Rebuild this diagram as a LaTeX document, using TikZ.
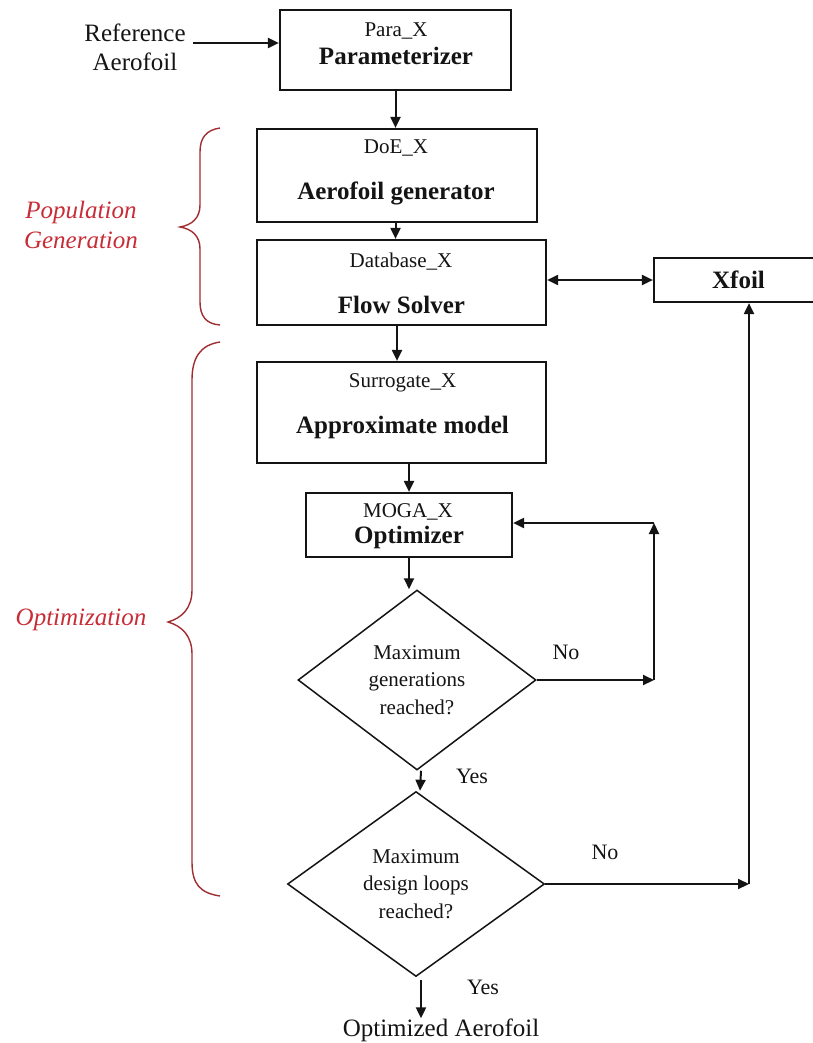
\documentclass[tikz,border=0pt]{standalone}
\usepackage{fontspec}
\setmainfont{Liberation Serif}
\usetikzlibrary{shapes.geometric,arrows.meta}
\definecolor{ink}{RGB}{20,20,20}
\definecolor{lblred}{RGB}{200,45,55}
\definecolor{brred}{RGB}{160,45,50}
\tikzset{
  boxnode/.style={draw=ink, line width=2.2pt, inner sep=0pt},
  smalltxt/.style={font=\fontsize{21}{25}\selectfont, text=ink, inner sep=0pt},
  boldtxt/.style={font=\fontsize{25}{29}\selectfont\bfseries, text=ink, inner sep=0pt},
  decision/.style={diamond, draw=ink, line width=1.5pt, inner sep=0pt, align=center,
    text=ink, font=\fontsize{21}{27.5}\selectfont},
  tip/.tip={Triangle[length=11pt,width=10pt]},
  flow/.style={draw=ink, line width=2pt, -tip},
  flowboth/.style={draw=ink, line width=2pt, tip-tip},
  plaintxt/.style={font=\fontsize{25}{29}\selectfont, text=ink, inner sep=0pt, align=center},
  answer/.style={font=\fontsize{22}{26}\selectfont, text=ink, inner sep=0pt},
  grouplbl/.style={font=\fontsize{25}{30}\selectfont\itshape, text=lblred, align=center, inner sep=0pt},
  bracepath/.style={draw=brred, line width=1.4pt}
}
\begin{document}
\begin{tikzpicture}[x=1pt,y=-1pt]
\path[use as bounding box, fill=white] (0,0) rectangle (813,1043);

% input text
\node[plaintxt] (ref) at (135,47.5) {Reference\\Aerofoil};
\coordinate (refout) at (193,43);

% boxes
\node[boxnode, minimum width=231pt, minimum height=80pt] (para) at (395.5,50) {};
\node[smalltxt] (paralbl) at (396,31) {Para\_X};
\node[boldtxt] (paraname) at (396,56) {Parameterizer};

\node[boxnode, minimum width=280pt, minimum height=93pt] (doe) at (397,175.5) {};
\node[smalltxt] (doelbl) at (396,148) {DoE\_X};
\node[boldtxt] (doename) at (396,193) {Aerofoil generator};

\node[boxnode, minimum width=289pt, minimum height=85pt] (db) at (401.5,282.5) {};
\node[smalltxt] (dblbl) at (401,262) {Database\_X};
\node[boldtxt] (dbname) at (401.5,305) {Flow Solver};

\node[boxnode, minimum width=169pt, minimum height=44pt] (xfoil) at (738.5,280) {};
\node[boldtxt] (xfoilname) at (738.5,280) {Xfoil};

\node[boxnode, minimum width=289pt, minimum height=101pt] (surr) at (401.5,412.5) {};
\node[smalltxt] (surrlbl) at (402.5,383) {Surrogate\_X};
\node[boldtxt] (surrname) at (402.5,427) {Approximate model};

\node[boxnode, minimum width=206pt, minimum height=64pt] (moga) at (409,525) {};
\node[smalltxt] (mogalbl) at (408,512) {MOGA\_X};
\node[boldtxt] (moganame) at (409,537) {Optimizer};

% decisions
\node[decision, minimum width=238pt, minimum height=180pt] (d1) at (417,680)
  {Maximum\\generations\\reached?};
\node[decision, minimum width=257pt, minimum height=185pt] (d2) at (416,884)
  {Maximum\\design loops\\reached?};

\node[plaintxt] (out) at (441,1030) {Optimized Aerofoil};

% answers
\node[answer] (no1) at (566,652) {No};
\node[answer] (yes1) at (472,776) {Yes};
\node[answer] (no2) at (605,852) {No};
\node[answer] (yes2) at (483,987) {Yes};

% group labels
\node[grouplbl] (popgen) at (81,225) {Population\\Generation};
\node[grouplbl] (optim) at (81,620) {Optimization};

% braces
\draw[bracepath] (220,128) .. controls (206,130) and (200,138) .. (200,152)
  -- (200,205) .. controls (200,218) and (192,225) .. (180,227)
  .. controls (192,229) and (200,236) .. (200,249)
  -- (200,302) .. controls (200,316) and (206,324) .. (220,325);
\draw[bracepath] (220,342) .. controls (200,345) and (192,358) .. (192,380)
  -- (192,590) .. controls (192,608) and (182,618) .. (168,622)
  .. controls (182,626) and (192,636) .. (192,654)
  -- (192,862) .. controls (192,884) and (200,893) .. (220,896);

% connectors
\draw[flow] (refout) -- (refout -| para.west);
\draw[flow] (para.south) -- (para.south |- doe.north);
\draw[flow] (para.south |- doe.south) -- (para.south |- db.north);
\draw[flowboth] (db.east |- xfoil.west) -- (xfoil.west);
\draw[flow] ([xshift=-4.5pt]db.south) -- ([xshift=-4.5pt]surr.north);
\draw[flow] (moga.north |- surr.south) -- (moga.north);
\draw[flow] (moga.south) -- (moga.south |- d1.north);

\coordinate (loopbot) at (654,680);
\coordinate (looptop) at (654,523);
\draw[flow] (d1.east) -- (loopbot);
\draw[flow] (loopbot) -- (looptop);
\draw[flow] (looptop) -- (looptop -| moga.east);

\draw[flow] ([xshift=4pt]d1.south) -- ([xshift=4pt]d2.north);

\coordinate (xcorner) at (749,884);
\draw[flow] (d2.east) -- (xcorner);
\draw[flow] (xcorner) -- (xcorner |- xfoil.south);

\coordinate (d2out) at (421,980);
\draw[flow] (d2out) -- (d2out |- out.north);
\end{tikzpicture}
\end{document}
